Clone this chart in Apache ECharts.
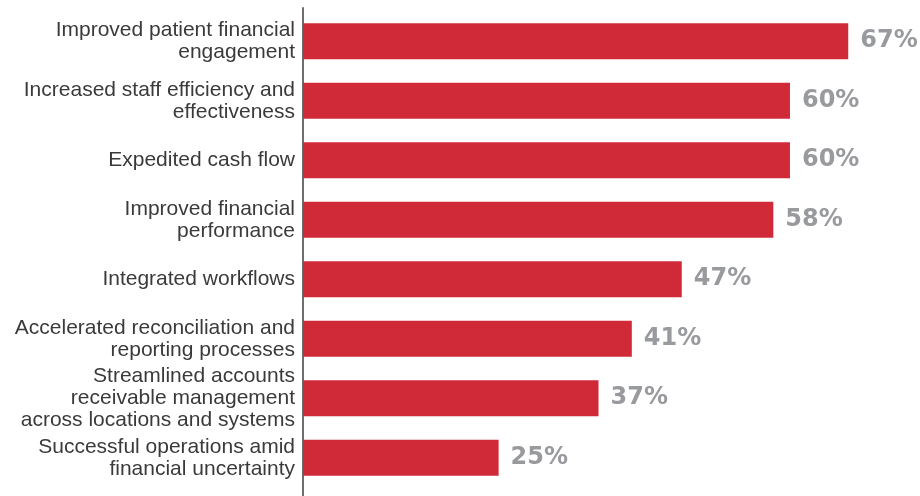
<!DOCTYPE html>
<html>
<head>
<meta charset="utf-8">
<script src="https://cdn.jsdelivr.net/npm/echarts@6/dist/echarts.min.js"></script>
<style>
  html, body { margin: 0; padding: 0; background: #ffffff; }
  #chart { width: 920px; height: 496px; }
</style>
</head>
<body>
<div id="chart"></div>
<script>
// Benefits reported, top to bottom
const categories = [
  'Improved patient financial\nengagement',
  'Increased staff efficiency and\neffectiveness',
  'Expedited cash flow',
  'Improved financial\nperformance',
  'Integrated workflows',
  'Accelerated reconciliation and\nreporting processes',
  'Streamlined accounts\nreceivable management\nacross locations and systems',
  'Successful operations amid\nfinancial uncertainty'
];
// Share of respondents, percent
const values = [67, 60, 60, 58, 47, 41, 37, 25];

const chart = echarts.init(document.getElementById('chart'), null, { renderer: 'canvas' });

chart.setOption({
  animation: false,
  backgroundColor: '#ffffff',
  grid: [
    { left: 303, top: 11.5, width: 616, height: 476, containLabel: false },
    // full-height grid used only for the long vertical baseline
    { left: 303, top: 8, width: 616, bottom: 0, containLabel: false }
  ],
  xAxis: [
    { gridIndex: 0, type: 'value', min: 1.5, max: 75.5, show: false },
    { gridIndex: 1, type: 'value', min: 0, max: 1, show: false }
  ],
  yAxis: [
    {
      gridIndex: 0,
      type: 'category',
      inverse: true,
      data: categories,
      axisLine: { show: false },
      axisTick: { show: false },
      splitLine: { show: false },
      axisLabel: {
        margin: 8,
        color: '#3a3a3a',
        fontFamily: 'Liberation Sans, Arial, sans-serif',
        fontSize: 21,
        lineHeight: 22,
        align: 'right'
      }
    },
    {
      gridIndex: 1,
      type: 'value',
      min: 0,
      max: 1,
      axisLine: { show: true, lineStyle: { color: '#6d6e71', width: 2 } },
      axisTick: { show: false },
      axisLabel: { show: false },
      splitLine: { show: false }
    }
  ],
  series: [
    {
      type: 'bar',
      xAxisIndex: 0,
      yAxisIndex: 0,
      data: values,
      barWidth: 36,
      itemStyle: { color: '#d02a38' },
      label: {
        show: true,
        position: 'right',
        distance: 12,
        formatter: '{c}%',
        color: '#999a9d',
        fontFamily: 'DejaVu Sans, sans-serif',
        fontWeight: 'bold',
        fontSize: 24
      }
    }
  ]
});
</script>
</body>
</html>
